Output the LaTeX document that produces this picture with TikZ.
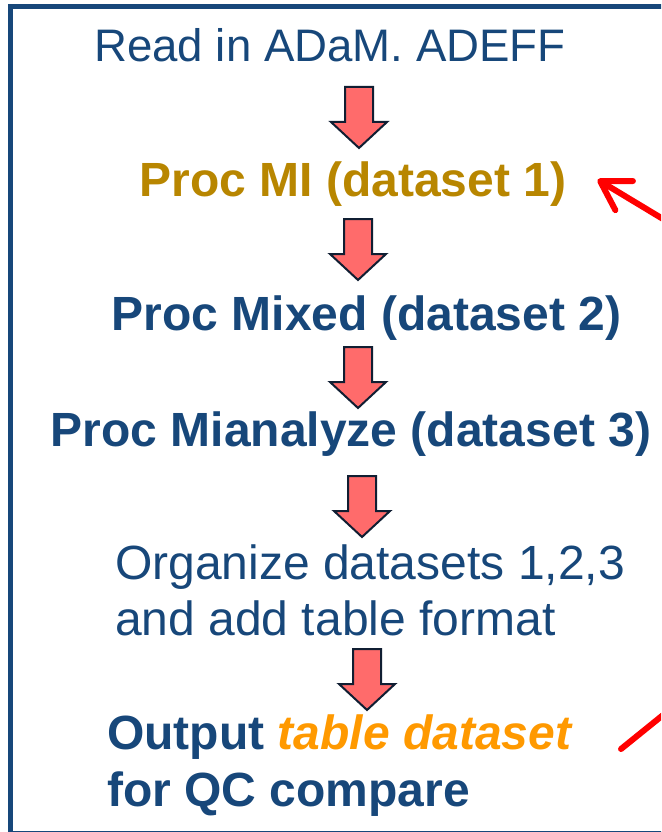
\documentclass[tikz,border=0pt]{standalone}
\usepackage{fontspec}
\setmainfont{Liberation Sans}
\usetikzlibrary{arrows.meta}
\definecolor{boxblue}{RGB}{23,71,122}
\definecolor{migold}{RGB}{184,134,0}
\definecolor{tblorange}{RGB}{255,153,0}
\definecolor{arrowfill}{RGB}{255,107,107}
\definecolor{arrowline}{RGB}{16,30,50}
\begin{document}
\begin{tikzpicture}[x=1pt, y=-1pt, font=\fontsize{48}{56}\selectfont]
%% one unit is one pixel of the reference, y grows downwards
%% the block arrows are a pic, centred on the point given to \pic
\tikzstyle{plaintext}=[anchor=base, text=boxblue, inner sep=0pt]
\tikzstyle{proctext}=[plaintext, font=\fontsize{48}{56}\selectfont\bfseries]
\tikzstyle{arrowbox}=[draw=arrowline, fill=arrowfill, line width=2pt, line join=miter]
\tikzstyle{redarc}=[draw=red, line width=6pt, line cap=round]
\tikzstyle{frame}=[draw=boxblue, line width=5pt]
\tikzset{downarrow/.pic={
  \path[arrowbox] (-14,-30.5) -- (14,-30.5) -- (14,4.5) -- (28,4.5) -- (0,30.5)
    -- (-28,4.5) -- (-14,4.5) -- cycle;}}
\useasboundingbox (0,0) rectangle (661,832);
\clip (0,0) rectangle (661,832);
%% frame round the flow, its right side is cut off
\draw[frame] (10.5,7) rectangle (720,833);
%% TikZ-figure elements %%
\node[plaintext, font=\fontsize{45.6}{56}\selectfont] (readin) at (330,62) {Read in ADaM. ADEFF};
\node[proctext, text=migold] (procmi) at (353,196) {Proc MI (dataset 1)};
\node[proctext] (procmixed) at (366.5,330) {Proc Mixed (dataset 2)};
\node[proctext] (procmian) at (351,446) {Proc Mianalyze (dataset 3)};
\node[plaintext, anchor=base west] (organize) at (115,579) {Organize datasets 1,2,3};
\node[plaintext, anchor=base west] (addformat) at (115,635) {and add table format};
\node[proctext, anchor=base west] (output) at (107,749)
  {Output \textcolor{tblorange}{\itshape table dataset}};
\node[proctext, anchor=base west] (forqc) at (107,806) {for QC compare};
%% block arrows between the steps
\pic at (359,117.5) {downarrow};
\pic at (358,249.5) {downarrow};
\pic at (358,377.5) {downarrow};
\pic at (362,506.5) {downarrow};
\pic at (367,679.5) {downarrow};
%% red pointers coming in from the right
\coordinate (redA) at (668,222);
\draw[redarc, -{Straight Barb[round, length=28pt, width=34pt]}]
  (redA) -- ([xshift=31pt, yshift=4pt]procmi.east);
\coordinate (redB) at (668,711);
\coordinate (redC) at (621,749);
\draw[redarc] (redB) -- (redC);
\end{tikzpicture}
\end{document}
